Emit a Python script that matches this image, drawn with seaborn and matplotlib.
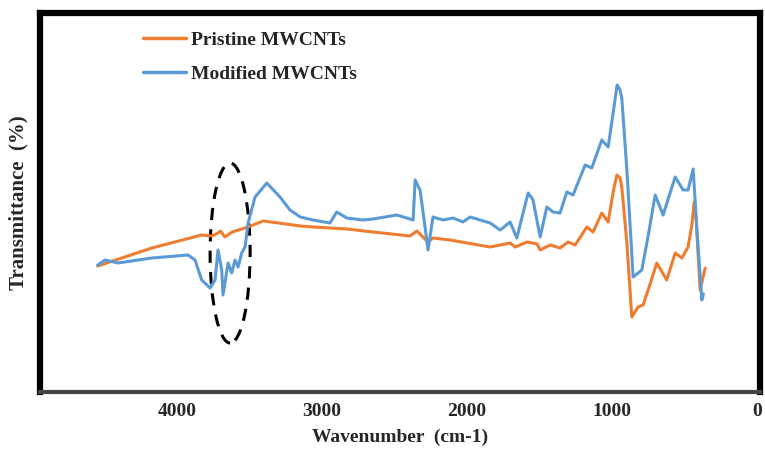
import matplotlib
matplotlib.use("Agg")
import matplotlib.pyplot as plt
import seaborn as sns
import numpy as np
import pandas as pd
from matplotlib.patches import Ellipse

# Wavenumber (cm-1) and transmittance (arbitrary units)
pristine_wn = [4547, 4174, 3830, 3760, 3717, 3700, 3670, 3620, 3510, 3407, 3300, 3150, 3062, 2828, 2648,
               2393, 2347, 2269, 2235, 2117, 2000, 1841, 1772, 1703, 1669, 1586, 1517,
               1496, 1428, 1359, 1303, 1255, 1174, 1131, 1071, 1027, 990, 967, 945, 933, 898,
               864, 821, 786, 740, 692, 623, 565, 519, 476, 450, 434, 420, 393, 358]
pristine_t = [134, 152, 165, 164, 167, 169, 163, 168, 173, 179, 177, 174, 173, 171, 168,
              164, 169, 158, 162, 160, 157, 153, 155, 157, 153, 158, 156,
              150, 155, 152, 158, 155, 173, 168, 187, 178, 210, 225, 222, 213, 157,
              83, 93, 95, 115, 137, 120, 147, 142, 153, 175, 198, 180, 110, 132]

modified_wn = [4547, 4497, 4407, 4174, 3924, 3876, 3830, 3772, 3738, 3717, 3692, 3683,
               3648, 3623, 3600, 3579, 3554, 3531, 3510, 3462, 3381, 3290, 3221, 3150, 3062,
               2945, 2899, 2830, 2717, 2648, 2485, 2416, 2372, 2358, 2324, 2269, 2235,
               2165, 2097, 2028, 1979, 1910, 1841, 1772, 1703, 1657, 1579, 1545, 1496,
               1450, 1407, 1359, 1312, 1269, 1186, 1140, 1071, 1027, 990, 965, 945, 933, 898,
               855, 795, 750, 703, 648, 565, 510, 476, 441, 415, 381, 370]
modified_t = [135, 140, 137, 142, 145, 140, 120, 112, 120, 150, 130, 105,
              137, 127, 140, 133, 147, 153, 177, 203, 217, 203, 190, 183, 180,
              177, 188, 182, 180, 181, 185, 182, 180, 220, 210, 150, 183,
              180, 182, 178, 183, 180, 177, 170, 178, 162, 207, 200, 163,
              193, 188, 187, 208, 205, 235, 232, 260, 253, 290, 315, 310, 302, 230,
              123, 130, 165, 205, 185, 223, 210, 210, 231, 170, 100, 106]

x_ticks = [4000, 3000, 2000, 1000, 0]
series_names = ["Pristine MWCNTs", "Modified MWCNTs"]
colors = ["#ED7D31", "#5B9BD5"]

df = pd.concat([
    pd.DataFrame({"wn": pristine_wn, "t": pristine_t, "s": series_names[0]}),
    pd.DataFrame({"wn": modified_wn, "t": modified_t, "s": series_names[1]}),
])

sns.set_theme(style="white")
plt.rcParams['font.family'] = ['Liberation Serif', 'DejaVu Serif']

fig = plt.figure(figsize=(7.65, 4.5), dpi=100)
ax = fig.add_axes([40 / 765, 1 - 392 / 450, 720 / 765, 379 / 450])

sns.lineplot(data=df, x="wn", y="t", hue="s", palette=colors, sort=False,
             estimator=None, linewidth=2.2, ax=ax, legend=True)

ax.set_xlim(4945, -20)
ax.set_ylim(8, 387)
ax.set_xticks(x_ticks)
ax.set_xticklabels([str(v) for v in x_ticks], fontsize=14, fontweight="bold")
ax.set_yticks([])
ax.tick_params(axis="x", length=0, pad=8)

ax.set_xlabel("Wavenumber  (cm-1)", fontsize=14, fontweight="bold", labelpad=6)
ax.set_ylabel("Transmittance  (%)", fontsize=15, fontweight="bold", labelpad=8)

for side in ["left", "top", "right"]:
    ax.spines[side].set_color("black")
    ax.spines[side].set_linewidth(4.5)
ax.spines["bottom"].set_color("#444444")
ax.spines["bottom"].set_linewidth(3)

# dashed ellipse around the 3400-3800 region
ell = Ellipse((3634, 147), width=276, height=180, fill=False, edgecolor="black",
              linestyle=(0, (4, 3)), linewidth=2.2)
ax.add_patch(ell)

leg = ax.legend(loc="upper left", bbox_to_anchor=(143 / 765, 1 - 31 / 450),
                bbox_transform=fig.transFigure, frameon=False, borderpad=0,
                borderaxespad=0, handlelength=2.2, handletextpad=0.25,
                labelspacing=0.85, prop={"size": 14, "weight": "bold"}, title=None)
for line in leg.get_lines():
    line.set_linewidth(2.5)

fig.savefig("out.png", dpi=100)
